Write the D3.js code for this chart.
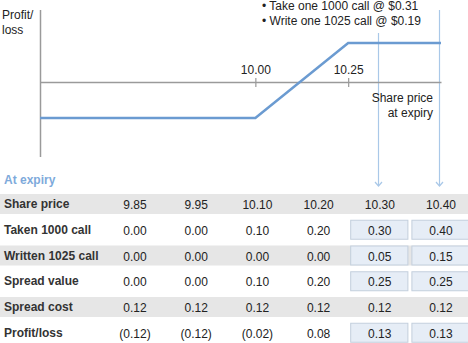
<!DOCTYPE html>
<html>
<head>
<meta charset="utf-8">
<script src="https://cdn.jsdelivr.net/npm/d3@7"></script>
<style>
  body { margin: 0; background: #fff; }
  svg { display: block; font-family: "Liberation Sans", Arial, sans-serif; }
</style>
</head>
<body>
<div id="main"></div>
<script>
// payoff line (share price at expiry -> profit/loss)
var payoffPrices = [9.42, 10.00, 10.25, 10.50];
var payoffValues = [-0.12, -0.12, 0.13, 0.13];
var strikeTicks = [10.00, 10.25];
var legendLines = ["• Take one 1000 call @ $0.31", "• Write one 1025 call @ $0.19"];

// table
var sharePrices = [9.85, 9.95, 10.10, 10.20, 10.30, 10.40];
var rowLabels = ["Share price", "Taken 1000 call", "Written 1025 call", "Spread value", "Spread cost", "Profit/loss"];
var taken = [0, 0, 0.10, 0.20, 0.30, 0.40];
var written = [0, 0, 0, 0, 0.05, 0.15];
var spreadValue = [0, 0, 0.10, 0.20, 0.25, 0.25];
var spreadCost = [0.12, 0.12, 0.12, 0.12, 0.12, 0.12];
var profitLoss = [-0.12, -0.12, -0.02, 0.08, 0.13, 0.13];
var highlightCols = [10.30, 10.40];
var highlightRows = [1, 2, 3, 5];
var shadedRows = [0, 2, 4];

var ctx = {
    w: 468,
    h: 343,
    blue: "#6b9bd1",
    axis: "#9a9a9a",
    text: "#222",
};

var svg = d3.select("#main").append("svg")
    .attr("width", ctx.w)
    .attr("height", ctx.h);

var x = d3.scaleLinear().domain([9.42, 10.5]).range([40, 441]);
var y = d3.scaleLinear().domain([-0.25, 0.24]).range([157, 10]);

// table columns
var col = d3.scaleBand().domain(sharePrices).range([104.4, 471.6]).paddingInner(0);
var row = d3.scaleBand().domain(d3.range(rowLabels.length)).range([194, 348.5]);

// table shaded rows
svg.selectAll("rect.shade").data(shadedRows).enter().append("rect")
    .attr("class", "shade")
    .attr("x", 0).attr("width", ctx.w)
    .attr("y", function (d) { return row(d); })
    .attr("height", 20)
    .attr("fill", "#e6e6e6");

// arrows down to table
var arrowTops = [33, 10];
highlightCols.forEach(function (p, i) {
    var cx = Math.round(col(p) + col.bandwidth() / 2) - 1.5;
    svg.append("line")
        .attr("x1", cx).attr("x2", cx)
        .attr("y1", arrowTops[i]).attr("y2", 186)
        .attr("stroke", "#a9c8e8").attr("stroke-width", 1.2);
    svg.append("path")
        .attr("d", "M" + (cx - 3.5) + ",182 L" + cx + ",186 L" + (cx + 3.5) + ",182")
        .attr("fill", "none")
        .attr("stroke", "#a9c8e8").attr("stroke-width", 1.2);
});

// y axis
svg.append("line")
    .attr("x1", 40.5).attr("x2", 40.5)
    .attr("y1", y(0.24)).attr("y2", y(-0.25))
    .attr("stroke", ctx.axis).attr("stroke-width", 1.5);

// x axis at zero
var xAxis = svg.append("g")
    .attr("transform", "translate(0," + y(0) + ")")
    .call(d3.axisTop(x).tickValues(strikeTicks).tickSizeOuter(0).tickSize(0)
        .tickFormat(d3.format(".2f")));
xAxis.select(".domain").attr("stroke", ctx.axis).attr("stroke-width", 1.5);
xAxis.selectAll(".tick line")
    .attr("y1", -4).attr("y2", 5)
    .attr("stroke", ctx.axis).attr("stroke-width", 1.2);
xAxis.selectAll(".tick text")
    .attr("y", -8)
    .attr("font-size", 12)
    .attr("font-family", "Liberation Sans, Arial, sans-serif")
    .attr("fill", ctx.text);

// payoff line
var line = d3.line()
    .x(function (d, i) { return x(payoffPrices[i]); })
    .y(function (d) { return y(d); });
svg.append("path")
    .datum(payoffValues)
    .attr("d", line)
    .attr("fill", "none")
    .attr("stroke", ctx.blue)
    .attr("stroke-width", 2.5);

// axis titles
var yt = svg.append("text").attr("font-size", 12).attr("fill", ctx.text);
yt.append("tspan").attr("x", 2).attr("y", 19).text("Profit/");
yt.append("tspan").attr("x", 2).attr("y", 34).text("loss");

var xt = svg.append("text").attr("font-size", 12).attr("fill", ctx.text)
    .attr("text-anchor", "end");
xt.append("tspan").attr("x", 433).attr("y", 102).text("Share price");
xt.append("tspan").attr("x", 433).attr("y", 117).text("at expiry");

// legend
svg.selectAll("text.legend").data(legendLines).enter().append("text")
    .attr("class", "legend")
    .attr("x", 262)
    .attr("y", function (d, i) { return 10 + i * 15; })
    .attr("font-size", 12)
    .attr("fill", ctx.text)
    .text(function (d) { return d; });

// "At expiry"
svg.append("text")
    .attr("x", 4).attr("y", 184)
    .attr("font-size", 12).attr("font-weight", "bold")
    .attr("fill", "#7eaadb")
    .text("At expiry");

// highlight boxes
var boxCells = [];
highlightRows.forEach(function (r) {
    highlightCols.forEach(function (p) { boxCells.push({ r: r, p: p }); });
});
svg.selectAll("rect.box").data(boxCells).enter().append("rect")
    .attr("class", "box")
    .attr("x", function (d) { return col(d.p) + 1.5; })
    .attr("y", function (d) { return row(d.r) + 0.5; })
    .attr("width", col.bandwidth() - 4)
    .attr("height", 19)
    .attr("fill", "#e6edf6")
    .attr("stroke", "#c3cfdd")
    .attr("stroke-width", 1);

// row labels
svg.selectAll("text.rowlabel").data(rowLabels).enter().append("text")
    .attr("class", "rowlabel")
    .attr("x", 4)
    .attr("y", function (d, i) { return row(i) + 14; })
    .attr("font-size", 12).attr("font-weight", "bold")
    .attr("fill", "#333")
    .text(function (d) { return d; });

// cell values
var fmt = d3.format(".2f");
function money(v) { return v < 0 ? "(" + fmt(-v) + ")" : fmt(v); }
var rows = [sharePrices, taken, written, spreadValue, spreadCost, profitLoss];
rows.forEach(function (vals, r) {
    svg.selectAll("text.r" + r).data(vals).enter().append("text")
        .attr("class", "r" + r)
        .attr("x", function (d, i) { return col(sharePrices[i]) + col.bandwidth() / 2; })
        .attr("y", row(r) + 15)
        .attr("text-anchor", "middle")
        .attr("font-size", 12)
        .attr("fill", ctx.text)
        .text(function (d) { return money(d); });
});
</script>
</body>
</html>
